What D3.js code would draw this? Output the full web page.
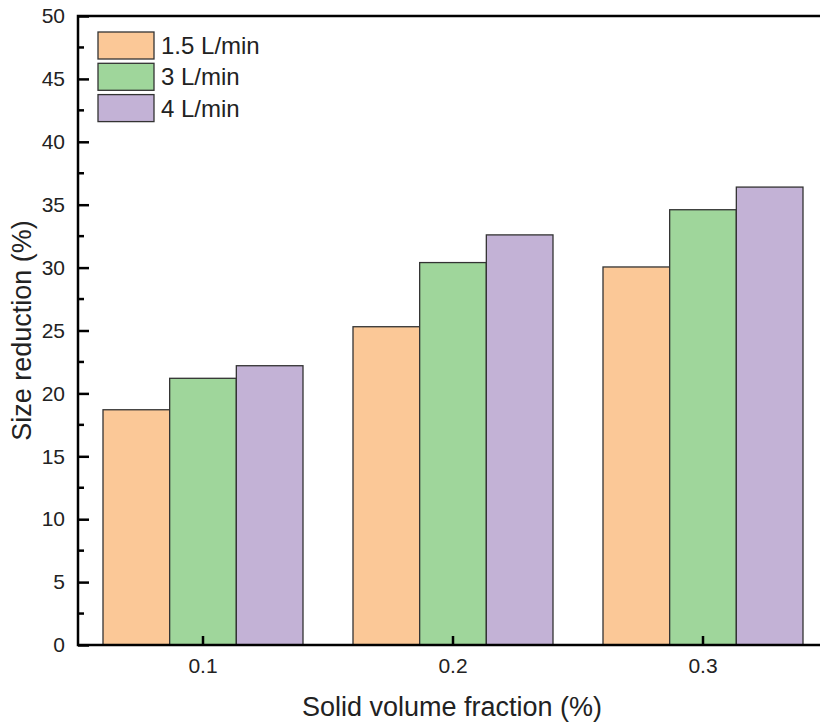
<!DOCTYPE html>
<html>
<head>
<meta charset="utf-8">
<script src="https://cdn.jsdelivr.net/npm/d3@7"></script>
<style>
  body { margin: 0; background: #fff; }
  svg { display: block; font-family: "Liberation Sans", Arial, sans-serif; }
</style>
</head>
<body>
<div id="chart"></div>
<script>
// Chart values
const fractions = ["0.1", "0.2", "0.3"];
const flowRates = ["1.5 L/min", "3 L/min", "4 L/min"];
const reduction15 = [18.7, 25.3, 30.05];
const reduction3 = [21.2, 30.4, 34.6];
const reduction4 = [22.2, 32.6, 36.4];
const yTicks = [0, 5, 10, 15, 20, 25, 30, 35, 40, 45, 50];
const yMinorTicks = [2.5, 7.5, 12.5, 17.5, 22.5, 27.5, 32.5, 37.5, 42.5, 47.5];

const WIDTH = 820, HEIGHT = 724;
const margin = { left: 78, top: 16, right: -8, bottom: 79 };
const colors = ["#FBC897", "#9FD69B", "#C3B2D6"];
const series = [reduction15, reduction3, reduction4];

const svg = d3.select("#chart").append("svg")
  .attr("width", WIDTH)
  .attr("height", HEIGHT);

const x = d3.scaleBand()
  .domain(fractions)
  .range([margin.left, WIDTH - margin.right])
  .paddingInner(0.2)
  .paddingOuter(0.1);

const xInner = d3.scaleBand()
  .domain(flowRates)
  .range([0, x.bandwidth()]);

const y = d3.scaleLinear()
  .domain([0, 50])
  .range([HEIGHT - margin.bottom, margin.top]);

// Bars
const groups = svg.append("g")
  .selectAll("g")
  .data(fractions)
  .join("g")
  .attr("transform", d => `translate(${x(d)},0)`);

groups.selectAll("rect")
  .data((d, i) => series.map((s, k) => ({ rate: flowRates[k], value: s[i], k })))
  .join("rect")
  .attr("x", d => xInner(d.rate))
  .attr("y", d => y(d.value))
  .attr("width", xInner.bandwidth())
  .attr("height", d => y(0) - y(d.value))
  .attr("fill", d => colors[d.k])
  .attr("stroke", "#333")
  .attr("stroke-width", 1.3);

// Axes
const axisColor = "#000";
const yAxis = svg.append("g")
  .attr("transform", `translate(${margin.left},0)`)
  .call(d3.axisRight(y).tickValues(yTicks).tickSize(11).tickFormat(d3.format("d")))
  .attr("font-family", null)
  .attr("font-size", 21);
yAxis.select(".domain").remove();
yAxis.selectAll(".tick line").attr("stroke", axisColor).attr("stroke-width", 2.5);
yAxis.selectAll(".tick text")
  .attr("x", -13)
  .attr("text-anchor", "end")
  .attr("fill", "#222");

svg.append("g")
  .selectAll("line")
  .data(yMinorTicks)
  .join("line")
  .attr("x1", margin.left)
  .attr("x2", margin.left + 6)
  .attr("y1", d => y(d))
  .attr("y2", d => y(d))
  .attr("stroke", axisColor)
  .attr("stroke-width", 2.5);

const xAxis = svg.append("g")
  .attr("transform", `translate(0,${y(0)})`)
  .call(d3.axisTop(x).tickSize(9).tickSizeOuter(0))
  .attr("font-family", null)
  .attr("font-size", 21);
xAxis.select(".domain").remove();
xAxis.selectAll(".tick line").attr("stroke", axisColor).attr("stroke-width", 2.5);
xAxis.selectAll(".tick text")
  .attr("y", 28)
  .attr("dy", 0)
  .attr("fill", "#222");

// Frame
svg.append("path")
  .attr("d", `M${WIDTH},${y(50)}H${margin.left}V${y(0)}H${WIDTH}`)
  .attr("fill", "none")
  .attr("stroke", axisColor)
  .attr("stroke-width", 2.5);

// Axis titles
svg.append("text")
  .attr("transform", `translate(31,${(y(0) + y(50)) / 2}) rotate(-90)`)
  .attr("text-anchor", "middle")
  .attr("fill", "#222")
  .style("font-size", "27px")
  .text("Size reduction (%)");

svg.append("text")
  .attr("x", 452)
  .attr("y", 716)
  .attr("text-anchor", "middle")
  .attr("fill", "#222")
  .style("font-size", "27px")
  .text("Solid volume fraction (%)");

// Legend
const legend = svg.append("g").attr("transform", "translate(98,32)");
const item = legend.selectAll("g")
  .data(flowRates)
  .join("g")
  .attr("transform", (d, i) => `translate(0,${i * 31.3})`);
item.append("rect")
  .attr("width", 56)
  .attr("height", 27)
  .attr("fill", (d, i) => colors[i])
  .attr("stroke", "#333")
  .attr("stroke-width", 1.3);
item.append("text")
  .attr("x", 63)
  .attr("y", 13.5)
  .attr("dy", "0.36em")
  .attr("fill", "#222")
  .style("font-size", "24px")
  .text(d => d);
</script>
</body>
</html>
